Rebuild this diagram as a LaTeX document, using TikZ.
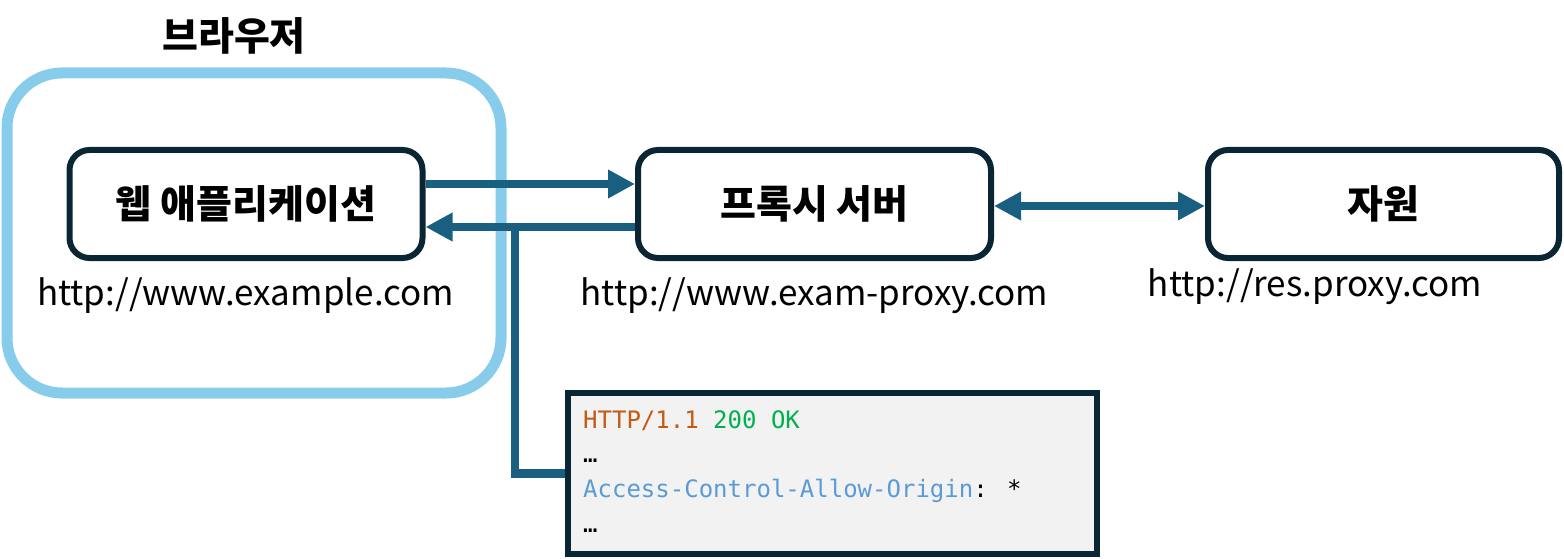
\documentclass[tikz,border=0pt]{standalone}
\usepackage{fontspec}
\setmainfont{Noto Sans CJK KR}
\newfontfamily\kr{Noto Sans CJK KR}
\newfontfamily\codefont{DejaVu Sans Mono}
\usetikzlibrary{arrows.meta}
\definecolor{frameblue}{RGB}{135,204,234}
\definecolor{boxdark}{RGB}{10,37,52}
\definecolor{arrowblue}{RGB}{24,95,128}
\definecolor{codebg}{RGB}{242,242,242}
\definecolor{httporange}{RGB}{197,90,17}
\definecolor{okgreen}{RGB}{0,176,80}
\definecolor{hdrblue}{RGB}{91,155,213}
\tikzset{
  browserframe/.style={draw=frameblue, line width=11pt, rounded corners=55pt, minimum width=494pt, minimum height=320pt, inner sep=0pt},
  compbox/.style={draw=boxdark, line width=6pt, fill=white, rounded corners=20pt, minimum width=353pt, minimum height=108pt, inner sep=0pt, font=\kr\bfseries\fontsize{39pt}{43pt}\selectfont},
  codebox/.style={draw=boxdark, line width=6pt, fill=codebg, minimum width=529pt, minimum height=161pt, inner sep=0pt},
  url/.style={anchor=base, inner sep=0pt, font=\kr\fontsize{35pt}{39pt}\selectfont},
  title/.style={inner sep=0pt, font=\kr\bfseries\fontsize{39pt}{43pt}\selectfont},
  codeline/.style={anchor=base west, inner sep=0pt, font=\codefont\fontsize{24pt}{28pt}\selectfont},
  conn/.style={draw=arrowblue, line width=8.5pt},
  arr/.style={conn, -{Triangle[length=27pt,width=27pt]}},
  darr/.style={conn, {Triangle[length=27pt,width=27pt]}-{Triangle[length=27pt,width=27pt]}},
}
\begin{document}
\begin{tikzpicture}[x=1pt,y=-1pt]
\useasboundingbox (0,0) rectangle (1564,559);
% browser frame
\node[browserframe] (browser) at (254,233) {};
\node[title] (browserlabel) at (234,36) {브라우저};
% component boxes
\node[compbox] (webapp) at (246,204) {웹 애플리케이션};
\node[compbox] (proxy) at (814.5,204) {프록시 서버};
\node[compbox, minimum width=351pt] (resource) at (1383.5,204) {자원};
% urls
\node[url] (webappurl) at (245.5,305) {http://www.example.com};
\node[url] (proxyurl) at (814.5,305) {http://www.exam-proxy.com};
\node[url] (resurl) at (1315,296) {http://res.proxy.com};
% code box
\node[codebox] (code) at (832.5,473.5) {};
\node[codeline] (l1) at (583,428) {\textcolor{httporange}{HTTP/1.1} \textcolor{okgreen}{200 OK}};
\node[codeline] (l2) at (583,462) {…};
\node[codeline] (l3) at (583,497) {\textcolor{hdrblue}{Access-Control-Allow-Origin}: *};
\node[codeline] (l4) at (583,532) {…};
% connectors
\draw[arr] ([yshift=20pt]webapp.east) -- ([yshift=20pt]proxy.west);
\draw[arr] ([yshift=-23pt]proxy.west) -- ([yshift=-23pt]webapp.east);
\coordinate (tap) at (515,227);
\draw[conn] (tap) |- (code.west);
\draw[darr] ([yshift=-2pt]proxy.east) -- ([yshift=-2pt]resource.west);
\end{tikzpicture}
\end{document}
